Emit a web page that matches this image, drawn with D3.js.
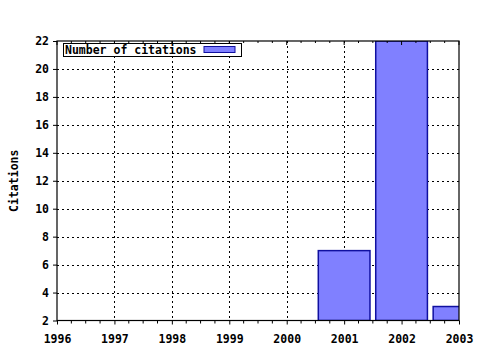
<!DOCTYPE html>
<html>
  <head>
    <script src="https://d3js.org/d3.v7.min.js"></script>
    <style>
      body { margin: 0; background: #fff; }
      text { font-family: "DejaVu Sans Mono", monospace; font-weight: bold; font-size: 11.5px; }
    </style>
  </head>
  <body>
    <script>
      const years = [2001, 2002, 2003];
      const citations = [7, 22, 3];
      const xTicks = [1996, 1997, 1998, 1999, 2000, 2001, 2002, 2003];
      const yTicks = [2, 4, 6, 8, 10, 12, 14, 16, 18, 20, 22];
      const seriesName = 'Number of citations';

      const w = 480, h = 350;
      const plotL = 57, plotR = 459, plotT = 41, plotB = 320.5;

      const x = d3.scaleLinear().domain([1996, 2003]).range([plotL, plotR]);
      const y = d3.scaleLinear().domain([2, 22]).range([plotB, plotT]);

      const svg = d3.select('body').append('svg')
                    .attr('width', w).attr('height', h);

      svg.append('clipPath').attr('id', 'clip')
         .append('rect').attr('x', plotL).attr('y', plotT)
         .attr('width', plotR - plotL).attr('height', plotB - plotT);

      // grid
      const grid = svg.append('g').attr('stroke', '#000').attr('stroke-dasharray', '2,3');
      grid.selectAll('.vg').data(xTicks.slice(1, -1)).enter().append('line')
          .attr('x1', d => Math.round(x(d)) + 0.5).attr('x2', d => Math.round(x(d)) + 0.5)
          .attr('y1', plotT).attr('y2', plotB);
      grid.selectAll('.hg').data(yTicks.slice(1, -1)).enter().append('line')
          .attr('y1', d => Math.round(y(d)) + 0.5).attr('y2', d => Math.round(y(d)) + 0.5)
          .attr('x1', plotL).attr('x2', plotR);

      // bars
      const bw = 0.9;
      svg.append('g').attr('clip-path', 'url(#clip)')
         .selectAll('rect').data(years).enter().append('rect')
         .attr('x', d => x(d - bw / 2))
         .attr('width', d => x(d + bw / 2) - x(d - bw / 2))
         .attr('y', (d, i) => y(citations[i]))
         .attr('height', (d, i) => plotB - y(citations[i]))
         .attr('fill', '#8080ff')
         .attr('stroke', '#1010a0')
         .attr('stroke-width', 1.5);

      // axes
      const xAxis = d3.axisBottom(x).tickValues(xTicks).tickFormat(d3.format('d'))
                      .tickSizeInner(4).tickSizeOuter(0).tickPadding(10);
      svg.append('g').attr('transform', `translate(0,${plotB})`).call(xAxis)
         .call(g => g.select('.domain').remove());

      const yAxis = d3.axisLeft(y).tickValues(yTicks).tickSizeInner(4).tickSizeOuter(0).tickPadding(4);
      svg.append('g').attr('transform', `translate(${plotL},0)`).call(yAxis)
         .call(g => g.select('.domain').remove());

      svg.selectAll('.tick text').attr('fill', '#000')
         .style('font-family', '"DejaVu Sans Mono", monospace')
         .style('font-weight', 'bold').style('font-size', '11.5px');

      // minor ticks on x
      const minors = d3.range(1996, 2003.01, 0.25).filter(v => v % 1 !== 0);
      svg.append('g').attr('stroke', '#000').selectAll('line').data(minors).enter().append('line')
         .attr('x1', d => x(d)).attr('x2', d => x(d))
         .attr('y1', plotB).attr('y2', plotB + 3);
      svg.append('g').attr('stroke', '#000').selectAll('line').data(minors).enter().append('line')
         .attr('x1', d => x(d)).attr('x2', d => x(d))
         .attr('y1', plotT).attr('y2', plotT + 2);
      svg.append('g').attr('stroke', '#000').selectAll('line').data(xTicks).enter().append('line')
         .attr('x1', d => x(d)).attr('x2', d => x(d))
         .attr('y1', plotT).attr('y2', plotT + 4);

      // frame
      svg.append('rect').attr('x', plotL).attr('y', plotT)
         .attr('width', plotR - plotL).attr('height', plotB - plotT)
         .attr('fill', 'none').attr('stroke', '#000').attr('stroke-width', 1.2);

      // y label
      svg.append('text').attr('transform', `translate(18,${(plotT + plotB) / 2}) rotate(-90)`)
         .attr('text-anchor', 'middle').text('Citations');

      // legend
      const lg = svg.append('g');
      lg.append('rect').attr('x', 63.5).attr('y', 43.5).attr('width', 178).attr('height', 13)
        .attr('fill', '#fff').attr('stroke', '#000');
      lg.append('text').attr('x', 65).attr('y', 54).text(seriesName);
      lg.append('rect').attr('x', 204).attr('y', 46.5).attr('width', 31).attr('height', 6)
        .attr('fill', '#8080ff').attr('stroke', '#1010a0');
    </script>
  </body>
</html>
